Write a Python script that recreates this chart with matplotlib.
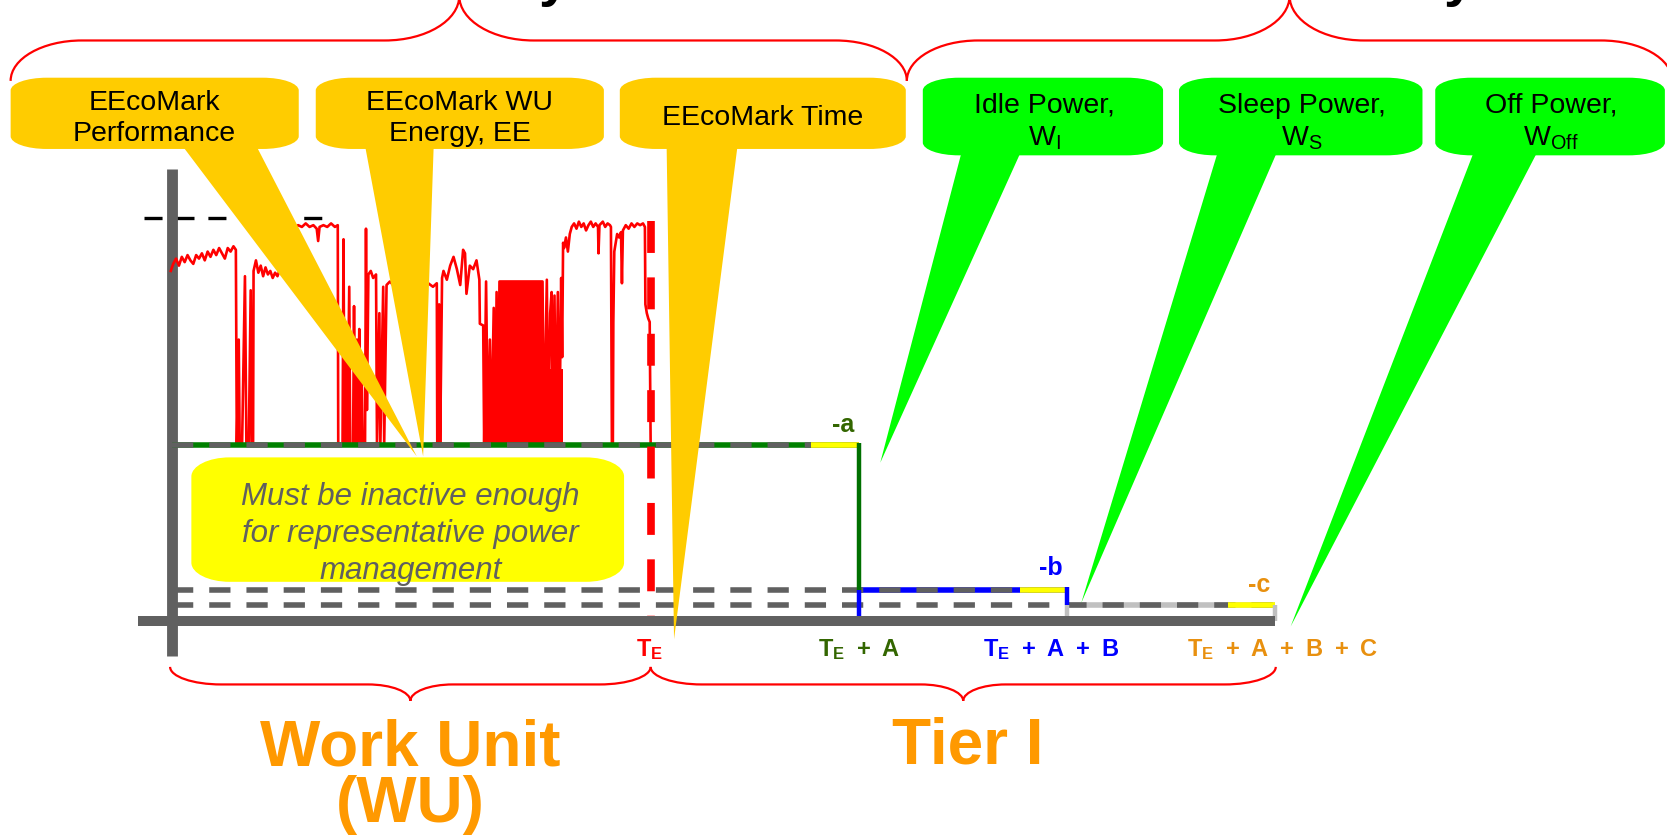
import matplotlib
matplotlib.use('Agg')
import matplotlib.pyplot as plt
from matplotlib.path import Path
from matplotlib.patches import PathPatch, Polygon

plt.rcParams['font.family'] = ['Liberation Sans', 'DejaVu Sans']
plt.rcParams['mathtext.fontset'] = 'custom'
plt.rcParams['mathtext.rm'] = 'Liberation Sans'
plt.rcParams['mathtext.it'] = 'Liberation Sans:italic'
plt.rcParams['mathtext.bf'] = 'Liberation Sans:bold'
plt.rcParams['lines.scale_dashes'] = False

# ---------------- data ----------------
T_E = 100.0          # end of work unit (time units)
A = 43.5             # idle interval
B = 43.5             # sleep interval
C = 43.5             # off interval
W_max = 229          # peak power reference (dashed)
W_idle = 100
W_sleep = 18
W_off = 9

trace_t = [-0.3, 0.2, 0.8, 1.4, 2.0, 2.6, 3.2, 3.8, 4.4, 5.0, 5.6, 6.2, 6.8, 7.4, 8.0, 8.6, 9.2, 9.8, 10.4, 11.0, 11.6, 12.2, 12.8, 13.3,
           13.5, 13.9, 14.1, 14.6, 15.2, 15.5, 16.0, 16.4, 16.6, 16.9, 17.0,
           17.5, 18.0, 18.5, 19.0, 19.5, 20.0, 20.5, 21.0, 21.5, 22.0, 22.5, 23.5, 24.5,
           25.0, 25.5, 26.3, 27.1, 27.9, 28.7, 29.5, 30.2, 30.5, 30.8, 31.6, 32.4, 33.2, 34.0, 34.6,
           34.7, 35.6, 35.8, 36.0, 36.4, 36.6, 37.0, 37.2, 37.8, 38.0, 38.2, 38.6, 38.8, 39.1, 39.3, 39.6, 39.8, 40.3, 40.5, 40.7,
           41.0, 41.5, 42.0, 42.6, 42.8, 43.3, 43.5, 44.1, 44.3, 44.8,
           45.5, 46.5, 47.5, 48.5, 49.5, 50.5, 51.5, 52.5, 53.5, 54.5, 55.3,
           55.4, 55.8, 56.0, 56.4,
           56.7, 57.4, 58.1, 58.8, 59.5, 60.2, 60.8, 61.2, 61.5, 62.2, 62.9, 63.6, 64.2,
           64.3, 65.0, 65.2,
           65.6, 66.0, 66.4, 66.7, 67.2, 67.5, 67.8, 68.1, 68.4,
           77.4, 77.7, 78.3, 78.6, 79.0, 79.3, 79.6, 79.9, 80.2, 80.6, 80.9, 81.3, 81.5, 81.7,
           81.9, 82.3, 82.7, 83.1, 83.5, 84.0, 84.5, 85.0, 85.5, 86.0, 86.5, 87.0, 87.5, 88.0, 88.5, 89.0, 89.1, 89.3, 90.0, 90.5, 91.0, 91.5,
           91.7, 91.9, 92.1, 92.2, 92.4, 92.7, 93.0, 93.4, 93.8, 94.0, 94.2, 94.8, 95.4, 96.0, 96.6, 97.2, 97.8, 98.4, 98.8,
           98.9, 99.2, 99.5, 99.8, 100.0]
trace_w = [199, 203, 206, 202, 207, 204, 208, 205, 203, 208, 206, 209, 205, 210, 207, 211, 208, 212, 209, 206, 212, 210, 213, 211,
           100, 160, 100, 100, 196, 100, 100, 188, 100, 100, 199,
           205, 198, 202, 196, 201, 197, 199, 195, 198, 196, 200, 212, 222,
           224, 223, 225, 224, 226, 224, 225, 223, 216, 224, 225, 224, 226, 224, 225,
           100, 100, 217, 100, 150, 100, 190, 100, 100, 179, 100, 160, 100, 166, 100, 140, 100, 100, 223, 120,
           197, 199, 195, 197, 100, 175, 100, 190, 100, 191,
           193, 190, 192, 191, 193, 190, 192, 191, 192, 190, 192,
           100, 180, 100, 195,
           199, 194, 202, 207, 200, 191, 211, 209, 186, 202, 200, 205, 194,
           169, 168, 100,
           193, 100, 160, 100, 178, 100, 187, 100, 193,
           193, 100, 194, 100, 175, 187, 100, 185, 100, 187, 100, 195, 150, 215,
           212, 218, 210, 220, 224, 226, 223, 227, 224, 226, 222, 225, 227, 224, 226, 224, 209, 225, 227, 224, 226, 225,
           224, 100, 100, 170, 210, 215, 220, 218, 221, 192, 222, 225, 223, 226, 224, 226, 225, 226, 224,
           180, 175, 172, 170, 100]

# dense oscillation block (solid looking region)
block_low_t = [65.3, 81.6]
block_low_top = [143, 143]
block_core_t = [68.4, 77.4]
block_core_top = [193, 193]

# labels
box_yellow_labels = ["EEcoMark\nPerformance", "EEcoMark WU\nEnergy, EE", "EEcoMark Time"]
box_green_labels = ["Idle Power,\nW$_\\mathrm{I}$", "Sleep Power,\nW$_\\mathrm{S}$", "Off Power,\nW$_\\mathrm{Off}$"]
SP = "\u2002"
time_labels = ["T$_\\mathbf{E}$",
               "T$_\\mathbf{E}$" + SP + "+" + SP + "A",
               "T$_\\mathbf{E}$" + SP + "+" + SP + "A" + SP + "+" + SP + "B",
               "T$_\\mathbf{E}$" + SP + "+" + SP + "A" + SP + "+" + SP + "B" + SP + "+" + SP + "C"]
step_labels = ["-a", "-b", "-c"]
note_text = "Must be inactive enough\nfor representative power\nmanagement"
group_labels = ["Work Unit", "(WU)", "Tier I"]

# ---------------- colours ----------------
GRAY = '#606060'
LGRAY = '#C0C0C0'
GOLD = '#FFCC00'
LIME = '#00FF00'
YEL = '#FFFF00'
DGREEN = '#336600'
ORANGE_L = '#E8900F'
ORANGE = '#FF9900'

fig = plt.figure(figsize=(16.67, 8.37), dpi=100)

# data axes (time / power)
ax = fig.add_axes([0, 0, 1, 1])
ax.set_xlim(-36, 312.44)
ax.set_ylim(-122.05, 353.5)
ax.axis('off')

# overlay axes in layout units (callouts, braces, text)
ov = fig.add_axes([0, 0, 1, 1], zorder=5)
ov.set_xlim(0, 1568)
ov.set_ylim(787, 0)
ov.axis('off')
ov.patch.set_alpha(0)

t1 = T_E + A
t2 = T_E + A + B
t3 = T_E + A + B + C

# peak dashed line
ax.plot([-5.8, 31.6], [W_max, W_max], color='black', lw=2.4, dashes=(13, 10), zorder=1)

# axes bars
ax.plot([0, 0], [-19.9, 256.8], color=GRAY, lw=7.8, solid_capstyle='butt', zorder=2)

# trace
ax.fill_between(block_low_t, W_idle, block_low_top, color='red', lw=0, zorder=3)
ax.fill_between(block_core_t, W_idle, block_core_top, color='red', lw=0, zorder=3)
ax.plot(trace_t, trace_w, color='red', lw=1.9, zorder=3)

# level lines
LW = 4
ax.plot([0, t1], [W_idle] * 2, color='#008000', lw=LW, solid_capstyle='butt', zorder=4)
ax.plot([0, t1], [W_idle] * 2, color=GRAY, lw=LW, dashes=(15.3, 11.5), zorder=4)
ax.plot([t1 - 9.9, t1], [W_idle] * 2, color=YEL, lw=LW, solid_capstyle='butt', zorder=4)

ax.plot([t1, t2], [W_sleep] * 2, color='#0000FF', lw=LW, solid_capstyle='butt', zorder=4)
ax.plot([0, t2], [W_sleep] * 2, color=GRAY, lw=LW, dashes=(15.3, 11.5), zorder=4)
ax.plot([t2 - 9.9, t2], [W_sleep] * 2, color=YEL, lw=LW, solid_capstyle='butt', zorder=4)

ax.plot([t2, t3], [W_off] * 2, color=LGRAY, lw=LW, solid_capstyle='butt', zorder=4)
ax.plot([0, t3], [W_off] * 2, color=GRAY, lw=LW, dashes=(15.3, 11.5), zorder=4)
ax.plot([t3 - 9.9, t3], [W_off] * 2, color=YEL, lw=LW, solid_capstyle='butt', zorder=4)

ax.plot([t1, t1], [W_idle + 1.2, W_sleep], color='#007000', lw=3.2, solid_capstyle='butt', zorder=4)
ax.plot([t1, t1], [W_sleep, 0], color='#0000FF', lw=3.2, solid_capstyle='butt', zorder=4)
ax.plot([t2, t2], [W_sleep + 1.2, W_off], color='#0000FF', lw=3.2, solid_capstyle='butt', zorder=4)
ax.plot([t2, t2], [W_off, 0], color=LGRAY, lw=3.2, solid_capstyle='butt', zorder=4)
ax.plot([t3, t3], [W_off, 0], color=LGRAY, lw=3.2, solid_capstyle='butt', zorder=4)

# T_E dashed marker
ax.plot([T_E, T_E], [227.5, 0], color='red', lw=5.5, dashes=(23, 17.6), zorder=5)

# x axis bar
ax.plot([-7.1, t3], [0, 0], color=GRAY, lw=7.2, solid_capstyle='butt', zorder=6)

# ---------------- overlay shapes ----------------
K = 0.5523


def rbox(x0, y0, x1, y1, rx, ry):
    v = [(x0 + rx, y0), (x1 - rx, y0),
         (x1 - rx + K * rx, y0), (x1, y0 + ry - K * ry), (x1, y0 + ry),
         (x1, y1 - ry),
         (x1, y1 - ry + K * ry), (x1 - rx + K * rx, y1), (x1 - rx, y1),
         (x0 + rx, y1),
         (x0 + rx - K * rx, y1), (x0, y1 - ry + K * ry), (x0, y1 - ry),
         (x0, y0 + ry),
         (x0, y0 + ry - K * ry), (x0 + rx - K * rx, y0), (x0 + rx, y0),
         (x0 + rx, y0)]
    c = [Path.MOVETO, Path.LINETO] + [Path.CURVE4] * 3 + [Path.LINETO] + [Path.CURVE4] * 3 + \
        [Path.LINETO] + [Path.CURVE4] * 3 + [Path.LINETO] + [Path.CURVE4] * 3 + [Path.CLOSEPOLY]
    return Path(v, c)


def brace(x0, x1, xt, ye, ym, yt, re, rt):
    v = [(x0, ye),
         (x0, ye - K * (ye - ym)), (x0 + re - K * re, ym), (x0 + re, ym),
         (xt - rt, ym),
         (xt - rt + K * rt, ym), (xt, yt + K * (ym - yt)), (xt, yt),
         (xt, yt + K * (ym - yt)), (xt + rt - K * rt, ym), (xt + rt, ym),
         (x1 - re, ym),
         (x1 - re + K * re, ym), (x1, ye - K * (ye - ym)), (x1, ye)]
    c = [Path.MOVETO] + [Path.CURVE4] * 3 + [Path.LINETO] + [Path.CURVE4] * 6 + [Path.LINETO] + [Path.CURVE4] * 3
    return Path(v, c)


# braces
for (x0, x1, xt, ye, ym, yt, re, rt) in [(10, 853, 432, 77, 39, -3, 67, 70),
                                         (853, 1573, 1213, 77, 39, -3, 67, 70),
                                         (160, 612, 386, 628, 644.5, 660, 48, 40),
                                         (612, 1200, 906, 628, 644.5, 660, 48, 40)]:
    ov.add_patch(PathPatch(brace(x0, x1, xt, ye, ym, yt, re, rt), fill=False, ec='red', lw=1.6, zorder=2))

# pointers
pointers = [([(170, 136), (240, 136), (392, 430)], GOLD),
            ([(343, 136), (408, 136), (398, 430)], GOLD),
            ([(627, 136), (694, 136), (634, 602)], GOLD),
            ([(905, 142), (961, 142), (828, 436)], LIME),
            ([(1146, 142), (1202, 142), (1017, 568)], LIME),
            ([(1387, 142), (1447, 142), (1214, 590)], LIME)]
for pts, col in pointers:
    ov.add_patch(Polygon(pts, closed=True, fc=col, ec='none', zorder=3))

# boxes
yboxes = [(10, 74, 281, 141), (297, 74, 568, 141), (583, 74, 852, 141)]
gboxes = [(868, 74, 1094, 147), (1109, 74, 1338, 147), (1350, 74, 1566, 147)]
for (x0, y0, x1, y1), lab in zip(yboxes, box_yellow_labels):
    ov.add_patch(PathPatch(rbox(x0, y0, x1, y1, 34, 12), fc=GOLD, ec='none', zorder=4))
    ov.text((x0 + x1) / 2, 111, lab, ha='center', va='center', fontsize=20.5, linespacing=1.25,
            color='black', zorder=6)
for (x0, y0, x1, y1), lab in zip(gboxes, box_green_labels):
    ov.text((x0 + x1) / 2 + 1, 115, lab, ha='center', va='center', fontsize=20.5, linespacing=1.28,
            color='black', zorder=6)
    ov.add_patch(PathPatch(rbox(x0, y0, x1, y1, 34, 12), fc=LIME, ec='none', zorder=4))

# note box
ov.add_patch(PathPatch(rbox(180, 431, 587, 548, 36, 18), fc=YEL, ec='none', zorder=2))
ov.text(386, 502, note_text, ha='center', va='center', fontsize=22.5, style='italic',
        color=GRAY, linespacing=1.3, zorder=6)

# time labels
for x, lab, col in zip([611, 808, 988.5, 1206], time_labels, ['red', DGREEN, '#0000FF', ORANGE_L]):
    ov.text(x, 617, lab, ha='center', va='baseline', fontsize=17, fontweight='bold', color=col, zorder=6)

# step labels
for (x, y), lab, col in zip([(793, 400), (988, 534), (1184, 550)], step_labels, [DGREEN, '#0000FF', ORANGE_L]):
    ov.text(x, y, lab, ha='center', va='center', fontsize=18, fontweight='bold', color=col, zorder=6)

# group labels
ov.text(386, 719.6, group_labels[0], ha='center', va='baseline', fontsize=46, fontweight='bold', color=ORANGE)
ov.text(386, 773, group_labels[1], ha='center', va='baseline', fontsize=46, fontweight='bold', color=ORANGE)
ov.text(910, 717.6, group_labels[2], ha='center', va='baseline', fontsize=46, fontweight='bold', color=ORANGE)

# cut-off heading fragments at the very top
for x in [521, 1372]:
    ov.text(x, -5, "y", ha='center', va='baseline', fontsize=40, fontweight='bold', color='black')

fig.savefig('out.png', dpi=100)
